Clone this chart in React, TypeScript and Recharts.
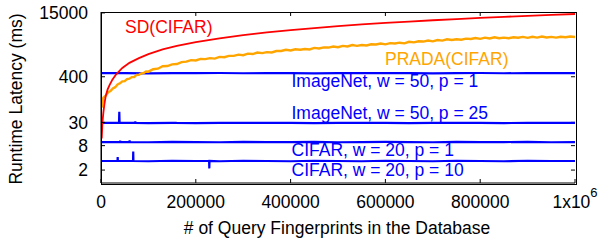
import React from 'react';
import { LineChart, Line, XAxis, YAxis, ReferenceLine } from 'recharts';

const FONT = '"Liberation Sans", Arial, Helvetica, sans-serif';

const xTicks = [0, 200000, 400000, 600000, 800000, 1000000];
const yTicks = [2, 8, 30, 400, 15000];
const xDomain = [0, 1000000];
const yDomain = [0.96, 15800];

// [queries in database, latency ms]
const sdCifar: [number, number][] = [
  [1500, 12], [3000, 30], [5000, 52], [7000, 82], [10000, 135], [14000, 195], [18000, 250],
  [24000, 340], [32000, 460], [45000, 660], [60000, 880], [80000, 1150], [100000, 1450],
  [130000, 1900], [160000, 2300], [200000, 2850], [250000, 3550], [300000, 4250],
  [350000, 4950], [400000, 5650], [450000, 6350], [500000, 7050], [550000, 7800],
  [600000, 8500], [650000, 9200], [700000, 9900], [750000, 10600], [800000, 11300],
  [850000, 12000], [900000, 12700], [950000, 13400], [1000000, 14100],
];

const pradaCifar: [number, number][] = [
  [1500, 70], [5000, 122], [10000, 137], [15000, 166], [20000, 178], [25000, 207], [30000, 221],
  [35000, 257], [40000, 275], [45000, 309], [50000, 312], [55000, 351], [60000, 359], [65000, 392],
  [70000, 394], [75000, 445], [80000, 446], [85000, 487], [90000, 495], [95000, 541], [100000, 534],
  [110000, 613], [120000, 632], [130000, 728], [140000, 735], [150000, 808], [160000, 825],
  [170000, 918], [180000, 941], [190000, 1030], [200000, 1009], [210000, 1102], [220000, 1088],
  [230000, 1151], [240000, 1123], [250000, 1236], [260000, 1215], [270000, 1306], [280000, 1307],
  [290000, 1401], [300000, 1358], [310000, 1483], [320000, 1450], [330000, 1581], [340000, 1529],
  [350000, 1616], [360000, 1591], [370000, 1724], [380000, 1723], [390000, 1844], [400000, 1775],
  [410000, 1897], [420000, 1852], [430000, 1939], [440000, 1882], [450000, 2060], [460000, 1999],
  [470000, 2122], [480000, 2099], [490000, 2225], [500000, 2134], [510000, 2307], [520000, 2234],
  [530000, 2413], [540000, 2313], [550000, 2424], [560000, 2367], [570000, 2530], [580000, 2495],
  [590000, 2637], [600000, 2522], [610000, 2703], [620000, 2646], [630000, 2767], [640000, 2669],
  [650000, 2915], [660000, 2822], [670000, 2989], [680000, 2950], [690000, 3121], [700000, 2988],
  [710000, 3224], [720000, 3116], [730000, 3359], [740000, 3214], [750000, 3353], [760000, 3269],
  [770000, 3478], [780000, 3425], [790000, 3605], [800000, 3444], [810000, 3677], [820000, 3518],
  [830000, 3755], [840000, 3557], [850000, 3687], [860000, 3560], [870000, 3764], [880000, 3673],
  [890000, 3842], [900000, 3638], [910000, 3873], [920000, 3695], [930000, 3931], [940000, 3714],
  [950000, 3838], [960000, 3696], [970000, 3886], [980000, 3782], [990000, 3935], [1000000, 3830],
];

const imagenetP1: [number, number][] = [
  [0, 490], [50000, 494], [100000, 487], [150000, 492], [200000, 489], [250000, 495], [300000, 488],
  [350000, 491], [400000, 493], [450000, 486], [500000, 490], [550000, 494], [600000, 489],
  [650000, 492], [700000, 487], [750000, 491], [800000, 495], [850000, 488], [900000, 490],
  [950000, 493], [1000000, 489],
];

const imagenetP25: [number, number][] = [
  [0, 29], [38000, 29], [38600, 55], [39200, 29], [72000, 29], [72400, 31.5], [72800, 29],
  [100000, 28.8], [150000, 29.2], [157000, 29], [157400, 30.5], [157800, 29], [200000, 28.9],
  [250000, 29.1], [295000, 29], [295400, 30.5], [295800, 29], [354000, 29], [354400, 30.5],
  [354800, 29], [400000, 29.2], [450000, 28.8], [500000, 29.1], [550000, 29], [600000, 29.2],
  [650000, 28.9], [700000, 29.1], [750000, 29], [800000, 29.2], [850000, 28.9], [900000, 29.1],
  [950000, 29], [1000000, 29],
];

const cifarP1: [number, number][] = [
  [0, 9.8], [40000, 9.8], [40400, 10.6], [40800, 9.8], [60000, 9.9], [60400, 10.8], [60800, 9.8],
  [100000, 9.7], [150000, 9.9], [200000, 9.8], [250000, 9.7], [300000, 9.9], [350000, 9.8],
  [400000, 9.8], [450000, 9.9], [500000, 9.7], [550000, 9.8], [600000, 9.9], [650000, 9.8],
  [700000, 9.7], [750000, 9.9], [800000, 9.8], [850000, 9.8], [900000, 9.9], [950000, 9.7],
  [1000000, 9.8],
];

const cifarP10: [number, number][] = [
  [0, 3.35], [34800, 3.35], [35200, 4.2], [35600, 3.35], [67600, 3.35], [68000, 5.7], [68400, 3.35],
  [100000, 3.3], [150000, 3.4], [200000, 3.35], [228100, 3.35], [228500, 2.2], [228900, 3.35],
  [250000, 3.3], [300000, 3.4], [350000, 3.35], [400000, 3.3], [450000, 3.4], [500000, 3.35],
  [550000, 3.3], [600000, 3.4], [650000, 3.35], [700000, 3.3], [750000, 3.4], [800000, 3.35],
  [850000, 3.3], [900000, 3.4], [950000, 3.35], [1000000, 3.35],
];

const toRows = (pts: [number, number][]) => pts.map(([n, ms]) => ({ n, ms }));

const XTick = (props: any) => {
  const { x, y, payload } = props;
  const v = payload.value;
  if (v === 1000000) {
    return (
      <text x={x} y={y} textAnchor="middle" fontSize={17.5} fill="#000" fontFamily={FONT}>
        1x10<tspan dy={-11} fontSize={13}>6</tspan>
      </text>
    );
  }
  return (
    <text x={x} y={y} textAnchor="middle" fontSize={17.5} fill="#000" fontFamily={FONT}>
      {v}
    </text>
  );
};

const BLUE = '#0000ff';
const RED = '#ff0000';
const ORANGE = '#ffa500';

// inward tick length expressed in data units (about 4 px)
const TOP_TICK_END = 12600;
const RIGHT_TICK_START = 991500;

export default function App() {
  return (
    <div style={{ position: 'absolute', left: 0, top: 0, width: 600, height: 243, fontFamily: FONT }}>
      <LineChart
        width={600}
        height={243}
        margin={{ top: 12, right: 25, bottom: 0, left: 0 }}
        style={{ fontFamily: FONT }}
      >
        <XAxis
          dataKey="n"
          type="number"
          domain={xDomain}
          ticks={xTicks}
          allowDataOverflow
          height={60}
          tickSize={-4}
          tickMargin={28.5}
          stroke="#000"
          tick={<XTick />}
          interval={0}
        />
        <YAxis
          dataKey="ms"
          type="number"
          scale="log"
          domain={yDomain}
          ticks={yTicks}
          allowDataOverflow
          width={101}
          tickSize={-4}
          tickMargin={17}
          stroke="#000"
          interval={0}
          tick={{ fontSize: 17.5, fill: '#000', fontFamily: FONT }}
        />
        {xTicks.slice(1, -1).map((t) => (
          <ReferenceLine
            key={'tx' + t}
            segment={[{ x: t, y: 15800 }, { x: t, y: TOP_TICK_END }]}
            stroke="#000"
            strokeWidth={1}
            ifOverflow="visible"
          />
        ))}
        {yTicks.slice(0, -1).map((t) => (
          <ReferenceLine
            key={'ty' + t}
            segment={[{ x: RIGHT_TICK_START, y: t }, { x: 1000000, y: t }]}
            stroke="#000"
            strokeWidth={1}
            ifOverflow="visible"
          />
        ))}
        <Line data={toRows(imagenetP1)} dataKey="ms" type="linear" stroke={BLUE} strokeWidth={2.2} dot={false} isAnimationActive={false} />
        <Line data={toRows(imagenetP25)} dataKey="ms" type="linear" stroke={BLUE} strokeWidth={2.2} dot={false} isAnimationActive={false} />
        <Line data={toRows(cifarP1)} dataKey="ms" type="linear" stroke={BLUE} strokeWidth={2.2} dot={false} isAnimationActive={false} />
        <Line data={toRows(cifarP10)} dataKey="ms" type="linear" stroke={BLUE} strokeWidth={2.2} dot={false} isAnimationActive={false} />
        <Line data={toRows(pradaCifar)} dataKey="ms" type="linear" stroke={ORANGE} strokeWidth={2.4} dot={false} isAnimationActive={false} />
        <Line data={toRows(sdCifar)} dataKey="ms" type="linear" stroke={RED} strokeWidth={1.8} dot={false} isAnimationActive={false} />
        <text x={125} y={32.5} fontSize={17.5} fill={RED} fontFamily={FONT}>SD(CIFAR)</text>
        <text x={385} y={65} fontSize={17.5} fill={ORANGE} fontFamily={FONT}>PRADA(CIFAR)</text>
        <text x={291.5} y={87.3} fontSize={17.5} fill={BLUE} fontFamily={FONT}>ImageNet, w = 50, p = 1</text>
        <text x={291.5} y={119.3} fontSize={17.5} fill={BLUE} fontFamily={FONT}>ImageNet, w = 50, p = 25</text>
        <text x={291.5} y={156} fontSize={17.5} fill={BLUE} fontFamily={FONT}>CIFAR, w = 20, p = 1</text>
        <text x={291.5} y={176} fontSize={17.5} fill={BLUE} fontFamily={FONT}>CIFAR, w = 20, p = 10</text>
        <text x={22} y={99} fontSize={17.5} fill="#000" fontFamily={FONT} textAnchor="middle" transform="rotate(-90 22 99)">Runtime Latency (ms)</text>
        <text x={337} y={234} fontSize={17.5} fill="#000" fontFamily={FONT} textAnchor="middle"># of Query Fingerprints in the Database</text>
      </LineChart>
      <div
        style={{
          position: 'absolute',
          left: 100.5,
          top: 11.5,
          width: 474,
          height: 171,
          border: '1px solid #000',
          pointerEvents: 'none',
        }}
      />
    </div>
  );
}
